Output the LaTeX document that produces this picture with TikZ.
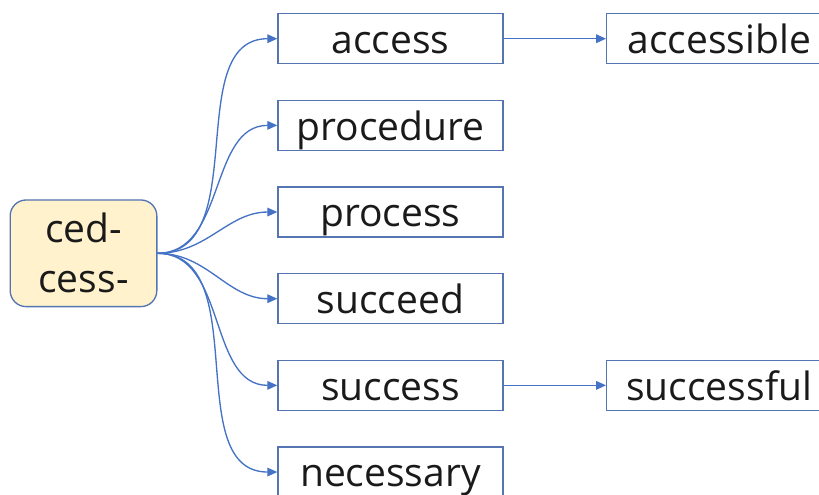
\documentclass[tikz,border=0pt]{standalone}
\usepackage{fontspec}
\setmainfont{Open Sans}
\usetikzlibrary{arrows.meta,positioning}
\definecolor{linkblue}{RGB}{68,114,196}
\definecolor{boxblue}{RGB}{84,116,178}
\definecolor{rootfill}{RGB}{255,242,204}
\definecolor{ink}{RGB}{26,26,26}

\begin{document}
\begin{tikzpicture}[
      x=0.75pt, y=-0.75pt,
      >={Triangle[length=7.5pt,width=6.5pt]},
      font=\fontsize{29.25pt}{37.5pt}\selectfont, text=ink,
      node distance=26.5pt and 76.8pt,
      word/.style={draw=boxblue, line width=1pt, minimum width=168.75pt,
                   minimum height=37.5pt, inner sep=0pt,
                   text height=25pt, text depth=3pt},
      stem/.style={draw=boxblue, line width=1pt, rounded corners=12pt,
                   fill=rootfill, minimum width=110pt, minimum height=80pt,
                   inner sep=0pt, align=center},
      link/.style={->, draw=linkblue, line width=1pt},
    ]
    \useasboundingbox (0,0) rectangle (819,495);

    % root
    \node[stem] (root) at (83.5,253.3) {ced-\\cess-};

    % words column
    \node[word, anchor=west] (access) at (277.3,38.7) {access};
    \node[word, below=of access] (procedure) {procedure};
    \node[word, below=of procedure] (process) {process};
    \node[word, below=of process] (succeed) {succeed};
    \node[word, below=of succeed] (success) {success};
    \node[word, below=of success] (necessary) {necessary};

    % derived words
    \node[word, right=of access] (accessible) {accessible};
    \node[word, right=of success] (successful) {successful};

    % flows
    \draw[link] (root.east) to[out=0, in=180] (access.west);
    \draw[link] (root.east) to[out=0, in=180] (procedure.west);
    \draw[link] (root.east) to[out=0, in=180] (process.west);
    \draw[link] (root.east) to[out=0, in=180] (succeed.west);
    \draw[link] (root.east) to[out=0, in=180] (success.west);
    \draw[link] (root.east) to[out=0, in=180] (necessary.west);
    \draw[link] (access) -- (accessible);
    \draw[link] (success) -- (successful);
  \end{tikzpicture}
\end{document}
